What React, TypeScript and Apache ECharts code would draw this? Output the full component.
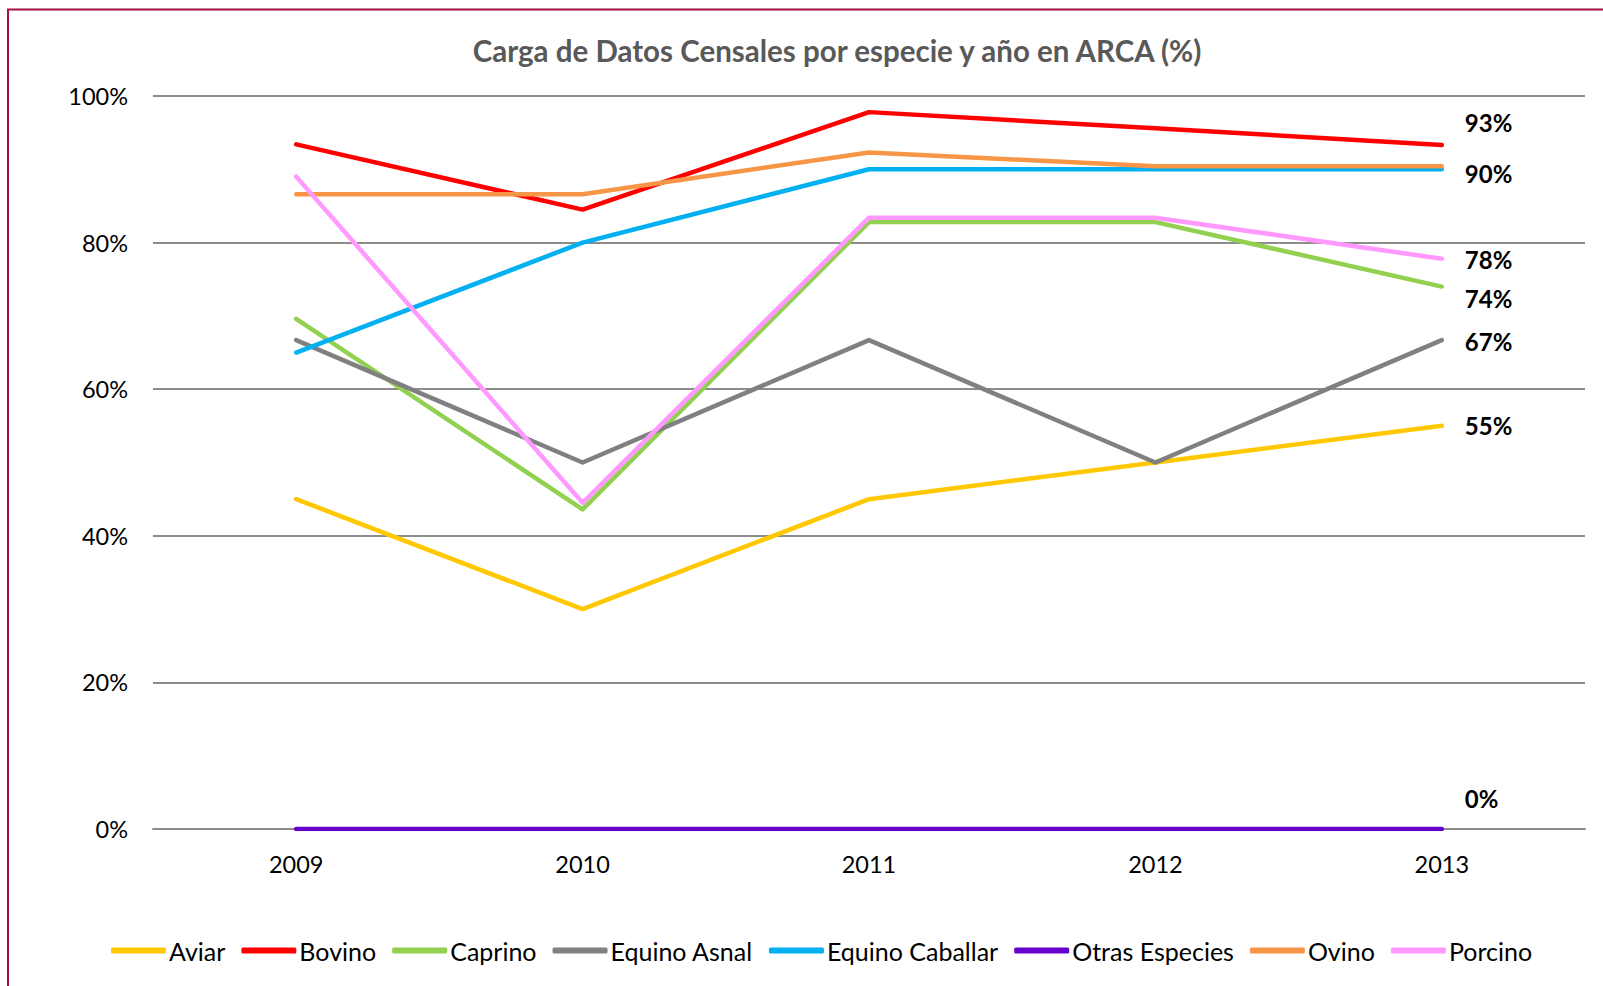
import React, { useEffect, useRef } from "react";
import * as echarts from "echarts";

const years = ["2009", "2010", "2011", "2012", "2013"];
const seriesNames = [
  "Aviar",
  "Bovino",
  "Caprino",
  "Equino Asnal",
  "Equino Caballar",
  "Otras Especies",
  "Ovino",
  "Porcino",
];
const aviar = [45, 30, 45, 50, 55];
const bovino = [93.4, 84.5, 97.8, 95.6, 93.3];
const caprino = [69.6, 43.6, 82.8, 82.8, 74.0];
const equinoAsnal = [66.7, 50, 66.7, 50, 66.7];
const equinoCaballar = [65, 80, 90, 90, 90];
const otrasEspecies = [0, 0, 0, 0, 0];
const ovino = [86.6, 86.6, 92.3, 90.4, 90.4];
const porcino = [89, 44.5, 83.4, 83.4, 77.8];
const yTicks = [0, 20, 40, 60, 80, 100];

const seriesValues = [aviar, bovino, caprino, equinoAsnal, equinoCaballar, otrasEspecies, ovino, porcino];
const colors = ["#FFC800", "#FF0000", "#92D050", "#808080", "#00B0F0", "#6600CC", "#F79646", "#FF99FF"];
// vertical offset of the end label (null = no label)
const labelDy: (number | null)[] = [0, -23, 12, 1.5, null, -31, 7, 1];

const FONT = "Lato";

export default function App() {
  const ref = useRef<HTMLDivElement>(null);
  useEffect(() => {
    if (!ref.current) return;
    const chart = echarts.init(ref.current, null, { renderer: "svg" });
    const series = seriesNames.map((name, i) => {
      const vals = seriesValues[i];
      const data = vals.map((v, j) => {
        if (j === vals.length - 1 && labelDy[i] !== null) {
          return {
            value: v,
            label: {
              show: true,
              position: "right",
              distance: 23,
              offset: [0, labelDy[i] as number],
              formatter: (p: any) => Math.round(p.value) + "%",
              fontFamily: FONT,
              fontWeight: "bold",
              fontSize: 24,
              color: "#000",
            },
          };
        }
        return v;
      });
      return {
        name,
        type: "line",
        data,
        symbol: "circle",
        symbolSize: 0,
        showSymbol: true,
        color: colors[i],
        lineStyle: { width: 4.5, color: colors[i], cap: "round", join: "round" },
        itemStyle: { color: colors[i] },
        emphasis: { disabled: true },
        z: 2 + i,
      };
    });
    chart.setOption({
      animation: false,
      backgroundColor: "#fff",
      title: {
        text: "Carga de Datos Censales por especie y año en ARCA (%)",
        left: 832,
        top: 30,
        textAlign: "center",
        textStyle: { fontFamily: FONT, fontWeight: "bold", fontSize: 29.5, color: "#595959" },
      },
      graphic: [
        {
          type: "rect",
          shape: { x: 8, y: 9.5, width: 1700, height: 1100 },
          style: { fill: "none", stroke: "#A50F48", lineWidth: 2 },
          silent: true,
        },
      ],
      legend: {
        data: seriesNames,
        left: 106,
        top: 933,
        itemWidth: 55,
        itemHeight: 6,
        itemGap: 16,
        icon: "roundRect",
        textStyle: { fontFamily: FONT, fontSize: 25, color: "#000", padding: [0, 0, 0, -2] },
      },
      grid: { left: 153, right: 18, top: 96, bottom: 157 },
      xAxis: {
        type: "category",
        data: years,
        boundaryGap: true,
        axisLine: { show: true, lineStyle: { color: "#8C8C8C", width: 2 } },
        axisTick: { show: false },
        axisLabel: { fontFamily: FONT, fontSize: 23.5, color: "#000", margin: 23 },
        z: 1,
      },
      yAxis: {
        type: "value",
        min: yTicks[0],
        max: yTicks[yTicks.length - 1],
        interval: 20,
        axisLine: { show: false },
        axisTick: { show: false },
        axisLabel: { fontFamily: FONT, fontSize: 23.5, color: "#000", margin: 25, formatter: "{value}%" },
        splitLine: { lineStyle: { color: "#8C8C8C", width: 2 } },
      },
      series,
    });
    return () => chart.dispose();
  }, []);
  return (
    <div
      ref={ref}
      style={{ position: "fixed", left: 0, top: 0, width: 1603, height: 986 }}
    />
  );
}
